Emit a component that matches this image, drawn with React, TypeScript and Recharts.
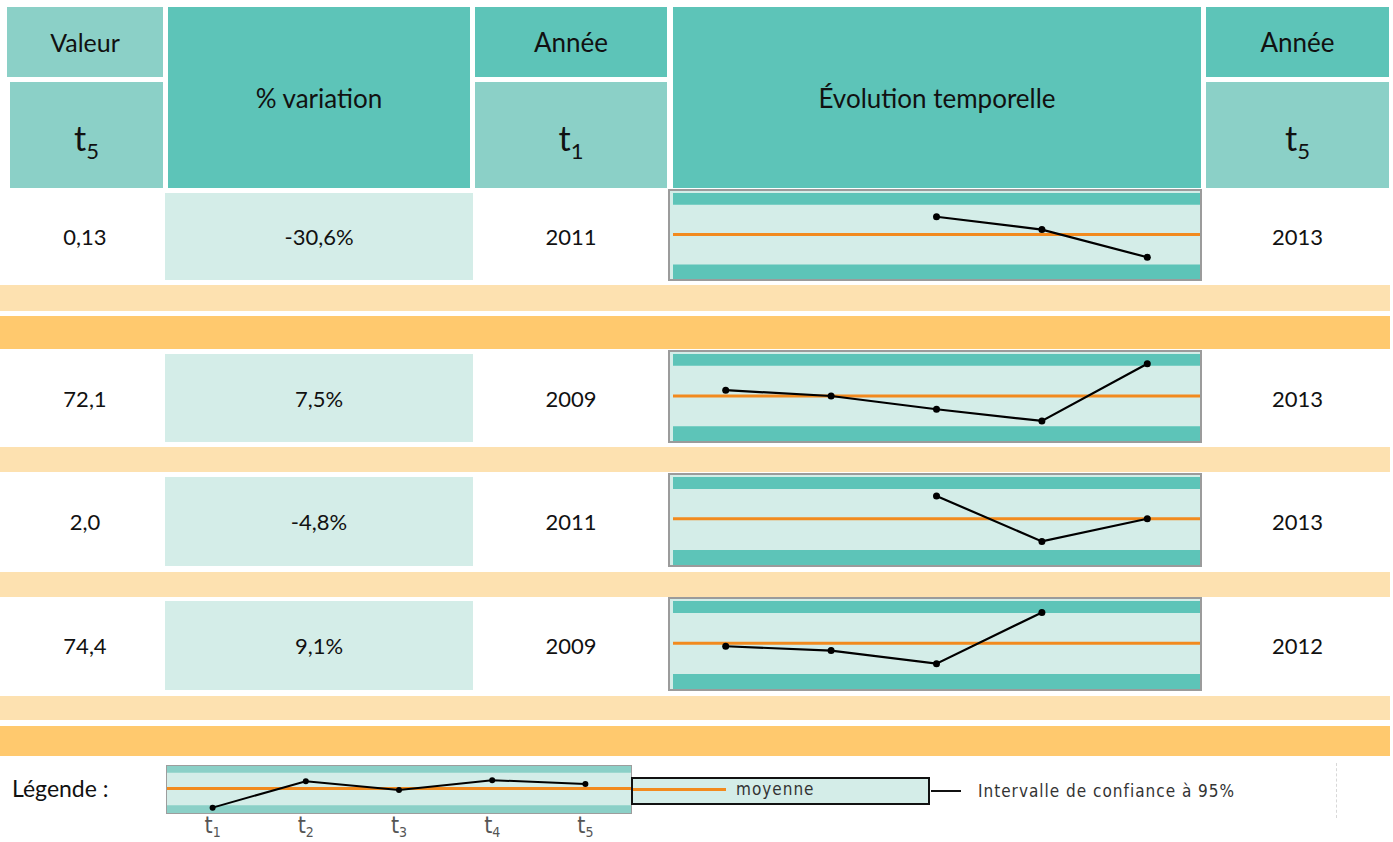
import React from "react";
import { LineChart, Line, XAxis, YAxis, ReferenceArea, ReferenceLine } from "recharts";

const teal = "#5DC4B8";
const tealLight = "#8BD0C7";
const paleTeal = "#D4EDE8";
const orangeLight = "#FDE1B0";
const orangeDark = "#FFC96E";
const meanOrange = "#F28A1E";
const font = "Lato, 'Open Sans', sans-serif";
const narrow = "'Liberation Sans Narrow', 'DejaVu Sans Condensed', sans-serif";

// données
const periods = [1, 2, 3, 4, 5];
const valeursT5 = ["0,13", "72,1", "2,0", "74,4"];
const variations = [-30.6, 7.5, -4.8, 9.1];
const anneesT1 = [2011, 2009, 2011, 2009];
const anneesT5 = [2013, 2013, 2013, 2012];

const serie1 = [null, null, 0.187, 0.169, 0.13];
const serie2 = [67.1, 66.0, 63.5, 61.3, 72.1];
const serie3 = [null, null, 2.1, 1.9, 2.0];
const serie4 = [68.2, 67.4, 65.0, 74.4, null];
const ic1 = [0.12, 0.204];
const ic2 = [60.3, 71.7];
const ic3 = [1.862, 2.131];
const ic4 = [63.1, 74.3];

const legendeSerie = [13, 67, 49, 69, 61];
const legendeIc = [18, 84];

const series = [serie1, serie2, serie3, serie4];
const ics = [ic1, ic2, ic3, ic4];

// mise en page (y haut, hauteur) des lignes du tableau
const rowTops = [193, 354, 477, 601];
const rowHeights = [87, 88, 89, 89];
const bands = [
  { top: 285, h: 26, c: orangeLight },
  { top: 316, h: 33, c: orangeDark },
  { top: 447, h: 25, c: orangeLight },
  { top: 572, h: 25, c: orangeLight },
  { top: 696, h: 24, c: orangeLight },
  { top: 726, h: 30, c: orangeDark },
];
const PAD_BAS = 0.245;
const PAD_HAUT = 0.196;

const fmtPct = (v: number) => v.toFixed(1).replace(".", ",") + "%";

function Box({ x, y, w, h, bg, children, style }: any) {
  return (
    <div
      style={{
        position: "absolute", left: x, top: y, width: w, height: h, background: bg,
        display: "flex", alignItems: "center", justifyContent: "center",
        fontFamily: font, color: "#111", ...style,
      }}
    >
      {children}
    </div>
  );
}

const T = ({ n }: { n: number }) => (
  <span style={{ fontSize: 34, lineHeight: "34px", marginTop: 10 }}>
    t<span style={{ fontSize: 22, position: "relative", top: 8 }}>{n}</span>
  </span>
);

function Sparkline({ serie, ic, top, height }: any) {
  const data = periods.map((p, i) => ({ x: p, v: serie[i] }));
  const vals = serie.filter((v: number | null) => v != null) as number[];
  const moyenne = vals.reduce((a, b) => a + b, 0) / vals.length;
  const span = ic[1] - ic[0];
  const domain = [ic[0] - PAD_BAS * span, ic[1] + PAD_HAUT * span];
  return (
    <div
      style={{
        position: "absolute", left: 668, top: top - 4, width: 534, height: height + 5,
        border: "2px solid #9B9B9B", boxSizing: "border-box", background: paleTeal,
      }}
    >
      <LineChart width={530} height={height + 1} data={data} margin={{ top: 2, right: 0, bottom: 0, left: 3 }}>
        <XAxis type="number" dataKey="x" domain={[0.5, 5.5]} hide />
        <YAxis type="number" domain={domain} hide allowDataOverflow />
        <ReferenceArea y1={domain[0]} y2={ic[0]} fill={teal} fillOpacity={1} stroke="none" />
        <ReferenceArea y1={ic[1]} y2={domain[1]} fill={teal} fillOpacity={1} stroke="none" />
        <ReferenceLine y={moyenne} stroke={meanOrange} strokeWidth={3} />
        <Line
          dataKey="v" stroke="#000" strokeWidth={2.2} isAnimationActive={false}
          dot={{ r: 3.5, fill: "#000", stroke: "#000", strokeWidth: 0 }}
        />
      </LineChart>
    </div>
  );
}

const TickT = ({ x, y, payload }: any) => (
  <text x={x} y={y + 11} textAnchor="middle" fill="#555" fontFamily={narrow} fontSize={23}>
    t<tspan fontSize={14} dy={4}>{payload.value}</tspan>
  </text>
);

function Legende() {
  const data = periods.map((p, i) => ({ x: p, v: legendeSerie[i] }));
  const moyenne = legendeSerie.reduce((a, b) => a + b, 0) / legendeSerie.length;
  return (
    <>
      <Box x={12} y={770} w={110} h={36} style={{ justifyContent: "flex-start", fontSize: 23 }}>
        Légende :
      </Box>
      <div style={{ position: "absolute", left: 166, top: 765 }}>
        <LineChart width={466} height={76} data={data} margin={{ top: 0, right: 0, bottom: 0, left: 0 }}>
          <XAxis
            type="number" dataKey="x" domain={[0.5, 5.5]} ticks={periods} height={27}
            axisLine={false} tickLine={false} tick={<TickT />} interval={0}
          />
          <YAxis type="number" domain={[0, 100]} hide />
          <ReferenceArea y1={0} y2={100} fill={paleTeal} fillOpacity={1} stroke="none" />
          <ReferenceArea y1={0} y2={legendeIc[0]} fill={tealLight} fillOpacity={1} stroke="none" />
          <ReferenceArea y1={legendeIc[1]} y2={100} fill={tealLight} fillOpacity={1} stroke="none" />
          <ReferenceLine y={moyenne} stroke={meanOrange} strokeWidth={3} />
          <Line
            dataKey="v" stroke="#000" strokeWidth={2} isAnimationActive={false}
            dot={{ r: 3, fill: "#000", stroke: "#000", strokeWidth: 0 }}
          />
        </LineChart>
      </div>
      <div style={{ position: "absolute", left: 166, top: 765, width: 466, height: 49, border: "1px solid #9d9d9d", boxSizing: "border-box", pointerEvents: "none" }} />
      <div style={{ position: "absolute", left: 631, top: 777, width: 299, height: 28, border: "2px solid #111", boxSizing: "border-box", background: paleTeal }} />
      <div style={{ position: "absolute", left: 633, top: 788, width: 93, height: 3, background: meanOrange }} />
      <div style={{ position: "absolute", left: 736, top: 779, fontFamily: narrow, fontSize: 17, letterSpacing: 1, color: "#333" }}>moyenne</div>
      <div style={{ position: "absolute", left: 931, top: 790, width: 30, height: 2, background: "#111" }} />
      <div style={{ position: "absolute", left: 978, top: 781, fontFamily: narrow, fontSize: 17, letterSpacing: 1, color: "#333", whiteSpace: "nowrap" }}>
        Intervalle de confiance à 95%
      </div>
      <div style={{ position: "absolute", left: 1336, top: 763, height: 55, borderLeft: "1px dashed #d8d8d8" }} />
    </>
  );
}

export default function App() {
  return (
    <div style={{ position: "absolute", left: 0, top: 0, width: 1393, height: 842, background: "#fff", overflow: "hidden" }}>
      {/* en-têtes */}
      <Box x={7} y={7} w={156} h={70} bg={tealLight} style={{ fontSize: 25 }}>Valeur</Box>
      <Box x={10} y={82} w={153} h={106} bg={tealLight}><T n={5} /></Box>
      <Box x={168} y={7} w={302} h={181} bg={teal} style={{ fontSize: 26 }}>% variation</Box>
      <Box x={475} y={7} w={192} h={70} bg={teal} style={{ fontSize: 26 }}>Année</Box>
      <Box x={475} y={82} w={192} h={106} bg={tealLight}><T n={1} /></Box>
      <Box x={673} y={7} w={528} h={181} bg={teal} style={{ fontSize: 26 }}>Évolution temporelle</Box>
      <Box x={1206} y={7} w={183} h={70} bg={teal} style={{ fontSize: 26 }}>Année</Box>
      <Box x={1206} y={82} w={183} h={106} bg={tealLight}><T n={5} /></Box>

      {bands.map((b, i) => (
        <div key={i} style={{ position: "absolute", left: 0, top: b.top, width: 1390, height: b.h, background: b.c }} />
      ))}

      {rowTops.map((top, i) => (
        <React.Fragment key={i}>
          <Box x={7} y={top} w={156} h={rowHeights[i]} style={{ fontSize: 22 }}>{valeursT5[i]}</Box>
          <Box x={165} y={top} w={308} h={rowHeights[i]} bg={paleTeal} style={{ fontSize: 22 }}>{fmtPct(variations[i])}</Box>
          <Box x={475} y={top} w={192} h={rowHeights[i]} style={{ fontSize: 22 }}>{anneesT1[i]}</Box>
          <Sparkline serie={series[i]} ic={ics[i]} top={top} height={rowHeights[i]} />
          <Box x={1206} y={top} w={183} h={rowHeights[i]} style={{ fontSize: 22 }}>{anneesT5[i]}</Box>
        </React.Fragment>
      ))}

      <Legende />
    </div>
  );
}
